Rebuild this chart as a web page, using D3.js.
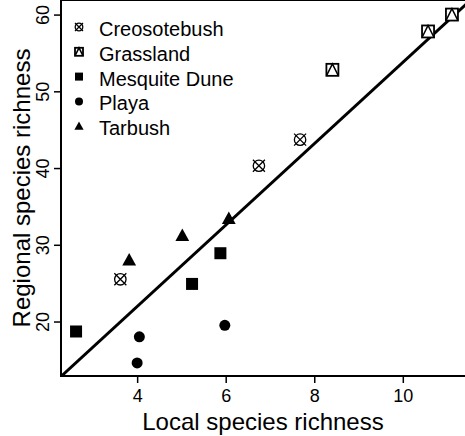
<!DOCTYPE html>
<html>
<head>
<meta charset="utf-8">
<script src="https://cdn.jsdelivr.net/npm/d3@7"></script>
<style>
  html, body { margin: 0; padding: 0; background: #fff; }
  svg { display: block; }
  text { font-family: "Liberation Sans", Arial, Helvetica, sans-serif; fill: #000; }
</style>
</head>
<body>
<svg id="chart" width="465" height="436"></svg>
<script>
// ---- data ----
const groups = ["Creosotebush", "Grassland", "Mesquite Dune", "Playa", "Tarbush"];
const creosoteLocal    = [3.62, 6.75, 7.68];
const creosoteRegional = [25.5, 40.3, 43.7];
const grassLocal       = [8.41, 10.57, 11.11];
const grassRegional    = [52.8, 57.8, 60.0];
const mesquiteLocal    = [2.62, 5.24, 5.88];
const mesquiteRegional = [18.7, 24.9, 28.9];
const playaLocal       = [4.05, 4.0, 5.98];
const playaRegional    = [18.0, 14.6, 19.5];
const tarbushLocal     = [3.82, 5.02, 6.07];
const tarbushRegional  = [28.0, 31.2, 33.4];
const xTicks = [4, 6, 8, 10];
const yTicks = [20, 30, 40, 50, 60];
const fitIntercept = 0.76, fitSlope = 5.3;

const series = [
  {name: groups[0], shape: "circleX",  xs: creosoteLocal, ys: creosoteRegional},
  {name: groups[1], shape: "squareTri",xs: grassLocal,    ys: grassRegional},
  {name: groups[2], shape: "square",   xs: mesquiteLocal, ys: mesquiteRegional},
  {name: groups[3], shape: "dot",      xs: playaLocal,    ys: playaRegional},
  {name: groups[4], shape: "triangle", xs: tarbushLocal,  ys: tarbushRegional}
];

// ---- layout ----
const L = 61, R = 467, T = 0, B = 376;
const x = d3.scaleLinear().domain([2.28, 11.45]).range([L, R]);
const y = d3.scaleLinear().domain([12.9, 61.9]).range([B, T]);

const svg = d3.select("#chart");

svg.append("defs").append("clipPath").attr("id", "plotclip")
  .append("rect").attr("x", L).attr("y", T).attr("width", R - L).attr("height", B - T);

// frame
svg.append("rect").attr("x", L).attr("y", T).attr("width", R - L).attr("height", B - T)
  .attr("fill", "none").attr("stroke", "#000").attr("stroke-width", 2);

// axes
const xAxis = svg.append("g").attr("transform", `translate(0,${B})`)
  .call(d3.axisBottom(x).tickValues(xTicks).tickSize(7).tickSizeOuter(0).tickPadding(6).tickFormat(d3.format("d")));
const yAxis = svg.append("g").attr("transform", `translate(${L},0)`)
  .call(d3.axisLeft(y).tickValues(yTicks).tickSize(7).tickSizeOuter(0).tickFormat(d3.format("d")));
[xAxis, yAxis].forEach(a => {
  a.select(".domain").remove();
  a.selectAll(".tick line").attr("stroke", "#000").attr("stroke-width", 1.5);
  a.selectAll("text").attr("font-size", 18).attr("fill", "#000")
    .attr("font-family", '"Liberation Sans", Arial, sans-serif');
});
xAxis.selectAll("text").attr("dy", "0.71em");
yAxis.selectAll("text")
  .attr("transform", "translate(-12,0) rotate(-90)")
  .attr("x", 0).attr("y", 0).attr("dy", "0").attr("text-anchor", "middle");

// axis titles
svg.append("text").attr("x", (L + R) / 2 - 1).attr("y", 430)
  .attr("text-anchor", "middle").attr("font-size", 24).text("Local species richness");
svg.append("text").attr("transform", `translate(30,${(T + B) / 2}) rotate(-90)`)
  .attr("text-anchor", "middle").attr("font-size", 24).text("Regional species richness");

// fit line
const g = svg.append("g").attr("clip-path", "url(#plotclip)");
const lx0 = x.domain()[0], lx1 = x.domain()[1];
g.append("line")
  .attr("x1", x(lx0)).attr("y1", y(fitIntercept + fitSlope * lx0))
  .attr("x2", x(lx1)).attr("y2", y(fitIntercept + fitSlope * lx1))
  .attr("stroke", "#000").attr("stroke-width", 3);

// marker drawing
function drawMarker(sel, shape, cx, cy, s) {
  const h = s / 2;
  if (shape === "square") {
    sel.append("rect").attr("x", cx - h).attr("y", cy - h).attr("width", s).attr("height", s).attr("fill", "#000");
  } else if (shape === "dot") {
    sel.append("circle").attr("cx", cx).attr("cy", cy).attr("r", h).attr("fill", "#000");
  } else if (shape === "triangle") {
    const w = s * 1.15, ht = s * 1.0;
    sel.append("path").attr("d", `M${cx},${cy - ht * 0.6}L${cx + w / 2},${cy + ht * 0.45}L${cx - w / 2},${cy + ht * 0.45}Z`).attr("fill", "#000");
  } else if (shape === "circleX") {
    const r = h * 0.95, k = h * 1.0;
    sel.append("circle").attr("cx", cx).attr("cy", cy).attr("r", r).attr("fill", "none").attr("stroke", "#000").attr("stroke-width", 1.3);
    sel.append("path").attr("d", `M${cx - k},${cy - k}L${cx + k},${cy + k}M${cx - k},${cy + k}L${cx + k},${cy - k}`)
      .attr("stroke", "#000").attr("stroke-width", 1.3).attr("fill", "none");
  } else if (shape === "squareTri") {
    sel.append("rect").attr("x", cx - h).attr("y", cy - h).attr("width", s).attr("height", s)
      .attr("fill", "#fff").attr("stroke", "#000").attr("stroke-width", 1.8);
    sel.append("path").attr("d", `M${cx - h},${cy + h}L${cx},${cy - h}L${cx + h},${cy + h}`)
      .attr("stroke", "#000").attr("stroke-width", 1.5).attr("fill", "none");
  }
}

const pts = svg.append("g");
series.forEach(s => {
  s.xs.forEach((v, i) => drawMarker(pts, s.shape, x(v), y(s.ys[i]), s.shape === "dot" ? 11 : 12));
});

// legend
const leg = svg.append("g");
series.forEach((s, i) => {
  const cy = 27 + i * 24.8;
  drawMarker(leg, s.shape, 79, cy, 8);
  leg.append("text").attr("x", 99).attr("y", cy + 9).attr("font-size", 20).text(s.name);
});
</script>
</body>
</html>
